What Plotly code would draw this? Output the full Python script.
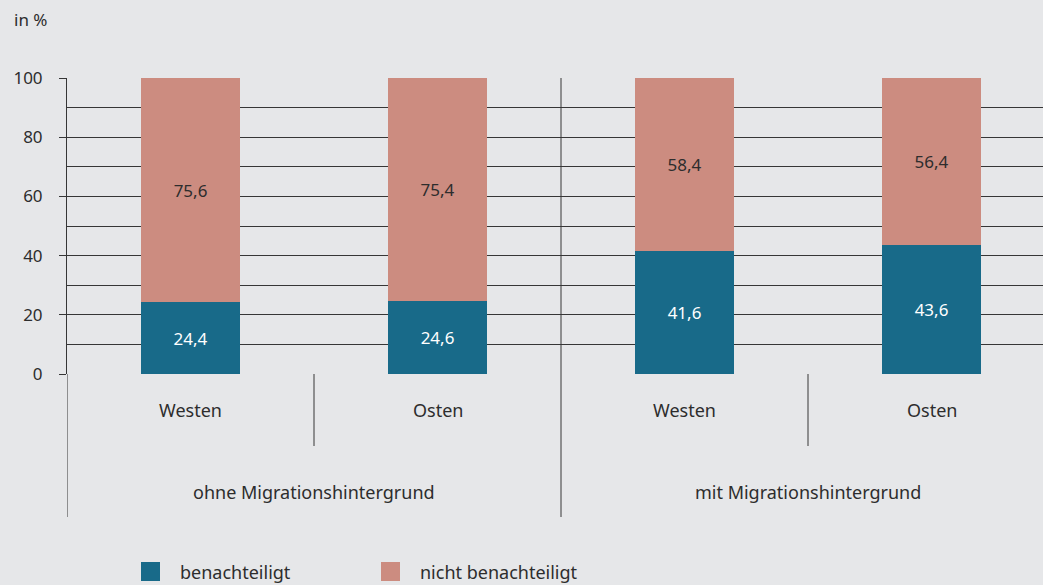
import plotly.graph_objects as go

regions = ["Westen", "Osten", "Westen", "Osten"]
groups = ["ohne Migrationshintergrund", "mit Migrationshintergrund"]
benachteiligt = [24.4, 24.6, 41.6, 43.6]
nicht_benachteiligt = [75.6, 75.4, 58.4, 56.4]
y_ticks = [0, 20, 40, 60, 80, 100]
series_names = ["benachteiligt", "nicht benachteiligt"]

BLUE = "#186a89"
PINK = "#cc8c80"
BG = "#e6e7e9"
TXT = "#2d2d2d"
LINE = "#363636"
FONT = "Noto Sans"
FS = 17
FS_L = 18

W, H = 1043, 585
L, T, B = 67, 78, 211
PW = W - L
PH = H - T - B
CAT_PX = 247.0

xpos = list(range(len(regions)))

def py(pix):
    return (H - B - pix) / PH

def px(pix):
    return (pix - L) / PW

fig = go.Figure()
fig.add_trace(go.Bar(x=xpos, y=benachteiligt, width=0.4, marker_color=BLUE,
                     marker_line_width=0, name=series_names[0], showlegend=False,
                     texttemplate="%{y:.1f}", textposition="inside",
                     insidetextanchor="middle", hoverinfo="skip",
                     textfont=dict(color="white", size=FS, family=FONT)))
fig.add_trace(go.Bar(x=xpos, y=nicht_benachteiligt, width=0.4, marker_color=PINK,
                     marker_line_width=0, name=series_names[1], showlegend=False,
                     texttemplate="%{y:.1f}", textposition="inside",
                     insidetextanchor="middle", hoverinfo="skip",
                     textfont=dict(color=TXT, size=FS, family=FONT)))

shapes = []
annotations = []
shapes.append(dict(type="line", xref="x", yref="paper", x0=-0.5, x1=-0.5,
                   y0=0, y1=py(517), line=dict(color=LINE, width=1)))
shapes.append(dict(type="line", xref="x", yref="paper", x0=1.5, x1=1.5,
                   y0=1, y1=py(517), line=dict(color=LINE, width=1)))
for xd in [0.5, 2.5]:
    shapes.append(dict(type="line", xref="x", yref="paper", x0=xd, x1=xd,
                       y0=0, y1=py(446), line=dict(color=LINE, width=1)))

for i, r in enumerate(regions):
    annotations.append(dict(x=i, y=py(410), xref="x", yref="paper", text=r,
                            xanchor="center", yanchor="middle",
                            showarrow=False, font=dict(size=FS_L, color=TXT, family=FONT)))
for j, g in enumerate(groups):
    annotations.append(dict(x=0.5 + 2 * j, y=py(492), xref="x", yref="paper", text=g,
                            xanchor="center", yanchor="middle",
                            showarrow=False, font=dict(size=FS_L, color=TXT, family=FONT)))

annotations.append(dict(x=px(12), y=py(20), xref="paper", yref="paper", text="in %",
                        xanchor="left", yanchor="middle", showarrow=False,
                        font=dict(size=FS, color=TXT, family=FONT)))

leg = [(141, 178, BLUE, series_names[0]), (381, 418, PINK, series_names[1])]
for sx, tx, col, name in leg:
    shapes.append(dict(type="rect", xref="paper", yref="paper", x0=px(sx), x1=px(sx + 19),
                       y0=py(562), y1=py(581), fillcolor=col, line=dict(width=0)))
    annotations.append(dict(x=px(tx), y=py(571.5), xref="paper", yref="paper", text=name,
                            xanchor="left", yanchor="middle", showarrow=False,
                            font=dict(size=FS_L, color=TXT, family=FONT)))

fig.update_layout(
    width=W, height=H,
    margin=dict(l=L, r=0, t=T, b=B, pad=0),
    paper_bgcolor=BG, plot_bgcolor=BG,
    barmode="stack", bargap=0,
    separators=",.",
    font=dict(family=FONT, size=FS, color=TXT),
    showlegend=False,
    shapes=shapes, annotations=annotations,
    xaxis=dict(range=[-0.5, -0.5 + PW / CAT_PX],
               showgrid=False, zeroline=False,
               showticklabels=False, ticks="", showline=False, fixedrange=True),
    yaxis=dict(range=[0, 100], tickvals=y_ticks, showgrid=True, gridcolor=LINE,
               gridwidth=1, zeroline=False, showline=True, linecolor=LINE, linewidth=1,
               ticks="outside", ticklen=7, tickcolor=LINE, tickwidth=1,
               ticklabelstandoff=13, fixedrange=True,
               tickfont=dict(size=FS, color=TXT, family=FONT),
               minor=dict(dtick=10, showgrid=True, gridcolor=LINE, gridwidth=1, ticks="")),
)

fig.write_html("out.html", config={"displayModeBar": False},
               post_script="document.body.style.margin='0';document.body.style.padding='0';document.body.style.overflow='hidden';document.body.style.background='%s';" % BG)
